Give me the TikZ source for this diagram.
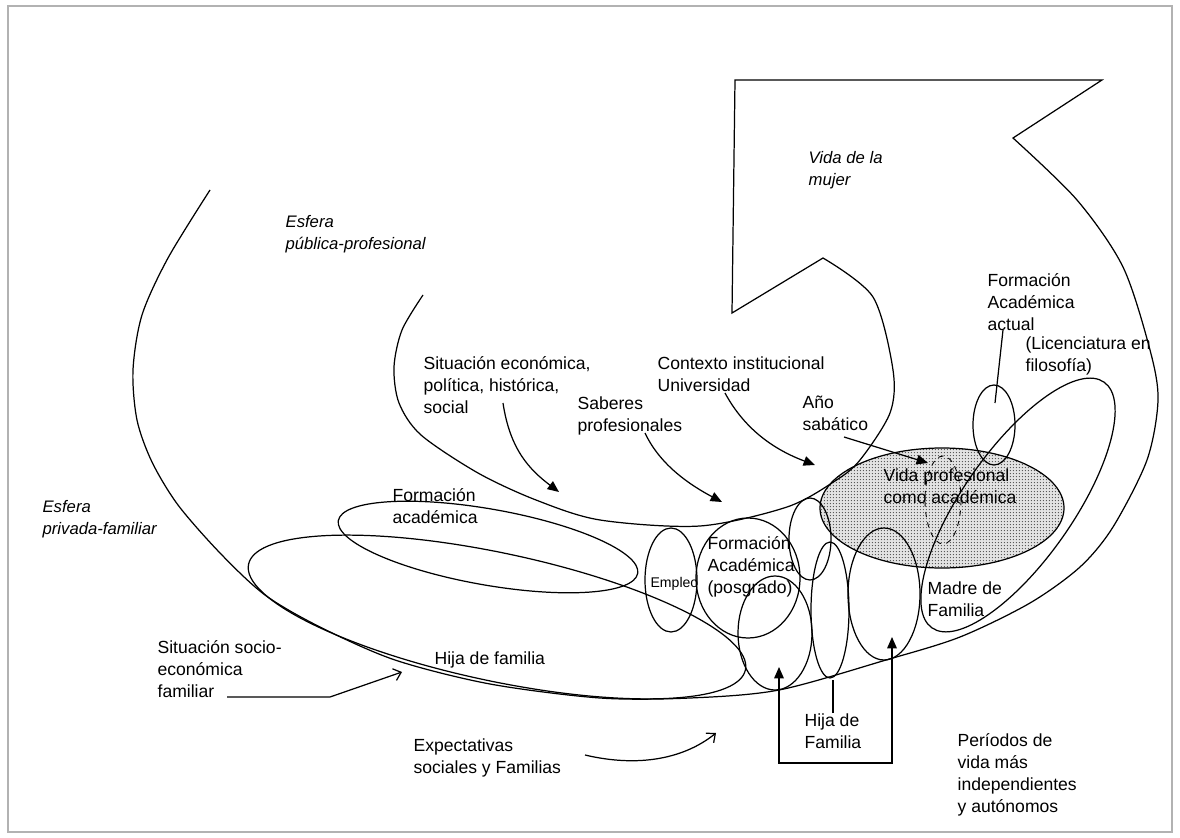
\documentclass[tikz,border=0pt]{standalone}
\usepackage{fontspec}
\setmainfont{Liberation Sans}
\usetikzlibrary{arrows.meta,patterns.meta}

\tikzdeclarepattern{
  name=finedots,
  type=uncolored,
  bounding box={(0pt,0pt) and (1.9pt,1.9pt)},
  tile size={(1.9pt,1.9pt)},
  code={\pgfpathcircle{\pgfqpoint{0.95pt}{0.95pt}}{0.42pt}\pgfusepath{fill}}
}

\tikzset{
  lbl/.style={align=left, inner sep=0pt, anchor=north west, font=\fontsize{10}{12.5}\selectfont},
  ital/.style={lbl, font=\fontsize{9.5}{12.5}\selectfont\itshape},
  tri/.style={-{Triangle[length=6.5pt,width=5.5pt]}},
  barb/.style={-{Straight Barb[length=4pt,width=7pt]}},
}

\begin{document}
\begin{tikzpicture}[x=0.02cm, y=-0.02cm, line width=0.7pt]
\useasboundingbox (0,0) rectangle (1180,838);
\draw[gray!60, line width=1.2pt] (8,6) rectangle (1172,832);

% vida profesional (shaded)
\draw[preaction={fill=gray!22}, pattern=finedots, pattern color=gray!60!black] (942,508) ellipse (122 and 60);

% vida de la mujer: outer arc, head, inner arc
\draw plot[smooth] coordinates {(210,190) (168,258) (142,315) (133,370) (137,420) (152,462) (178,505) (220,553) (265,595) (320,627) (395,660) (490,684) (600,698) (690,698) (779,690) (886,660) (960,637) (1030,603) (1080,567) (1113,527) (1147,460) (1158,400) (1150,350) (1123,267) (1077,200) (1013,138)}
  -- (1102,80) -- (735,80) -- (732,313) -- (823,258)
  -- plot[smooth] coordinates {(823,258) (873,297) (893,370) (890,413) (860,460) (835,481) (787,507) (700,526) (600,520) (536,500) (478,473) (421,435) (399,403) (394,367) (402,330) (423,295)};

% periods
\draw[rotate around={-10:(488,547)}] (488,547) ellipse (152 and 38);
\draw[rotate around={-12:(497,617)}] (497,617) ellipse (254 and 64);
\draw (671,580) ellipse (26 and 52);
\draw (748,578) ellipse (52 and 60);
\draw (810,539) ellipse (21 and 41);
\draw (775,633) ellipse (37 and 57);
\draw (830,610) ellipse (19 and 68);
\draw (884,594) ellipse (36 and 66);
\draw (994,425) ellipse (21 and 40);
\draw[rotate around={55:(1018,505)}] (1018,505) ellipse (150 and 55);
\draw[dashed, line width=0.5pt] (943,500) ellipse (18 and 44);

% labels
\node[ital] (vida) at (808,151) {Vida de la\\mujer};
\node[ital] (pub) at (285,215) {Esfera\\pública-profesional};
\node[ital] (priv) at (42,500) {Esfera\\privada-familiar};
\node[lbl] (sit) at (423,356) {Situación económica,\\política, histórica,\\social};
\node[lbl] (ctx) at (657,356) {Contexto institucional\\Universidad};
\node[lbl] (sab) at (577,396) {Saberes\\profesionales};
\node[lbl] (ano) at (802,395) {Año\\sabático};
\node[lbl] (fact) at (987,273) {Formación\\Académica\\actual};
\node[lbl] (lic) at (1025,336) {(Licenciatura en\\filosofía)};
\node[lbl] (vprof) at (883,468) {Vida profesional\\como académica};
\node[lbl] (facad) at (392,488) {Formación\\académica};
\node[lbl, font=\fontsize{8}{10}\selectfont] (empleo) at (650,577) {Empleo};
\node[lbl] (posg) at (707,536) {Formación\\Académica\\(posgrado)};
\node[lbl] (madre) at (927,581) {Madre de\\Familia};
\node[lbl] (socio) at (157,640) {Situación socio-\\económica\\familiar};
\node[lbl] (hijaf) at (434,651) {Hija de familia};
\node[lbl] (expect) at (413,738) {Expectativas\\sociales y Familias};
\node[lbl] (hijaF) at (804,713) {Hija de\\Familia};
\node[lbl] (periodos) at (957,733) {Períodos de\\vida más\\independientes\\y autónomos};

% influences
\coordinate (sitA) at (503,403);  \coordinate (sitB) at (559,492);
\coordinate (sabA) at (645,433);  \coordinate (sabB) at (722,502);
\coordinate (ctxA) at (725,393);  \coordinate (ctxB) at (815,465);
\coordinate (anoA) at (844,437);  \coordinate (anoB) at (928,463);
\coordinate (socA) at (227,697);  \coordinate (socB) at (402,672);
\coordinate (expA) at (585,755);  \coordinate (expB) at (716,733);
\coordinate (actA) at (1003,330); \coordinate (actB) at (995,403);
\coordinate (hfL) at (779,667);   \coordinate (hfR) at (892,637);

\draw[tri] (sitA) .. controls (510,450) and (530,470) .. (sitB);
\draw[tri] (sabA) .. controls (660,465) and (690,485) .. (sabB);
\draw[tri] (ctxA) .. controls (745,430) and (775,450) .. (ctxB);
\draw[tri] (anoA) -- (anoB);
\draw[barb] (socA) -- (330,697) -- (socB);
\draw[barb] (expA) .. controls (640,768) and (685,758) .. (expB);
\draw (actA) -- (actB);
\draw[{Triangle[length=6.5pt,width=5.5pt]}-{Triangle[length=6.5pt,width=5.5pt]}] (hfL) -- (779,763) -- (892,763) -- (hfR);
\draw (hijaF.north) -- ++(0,-33);
\end{tikzpicture}
\end{document}
